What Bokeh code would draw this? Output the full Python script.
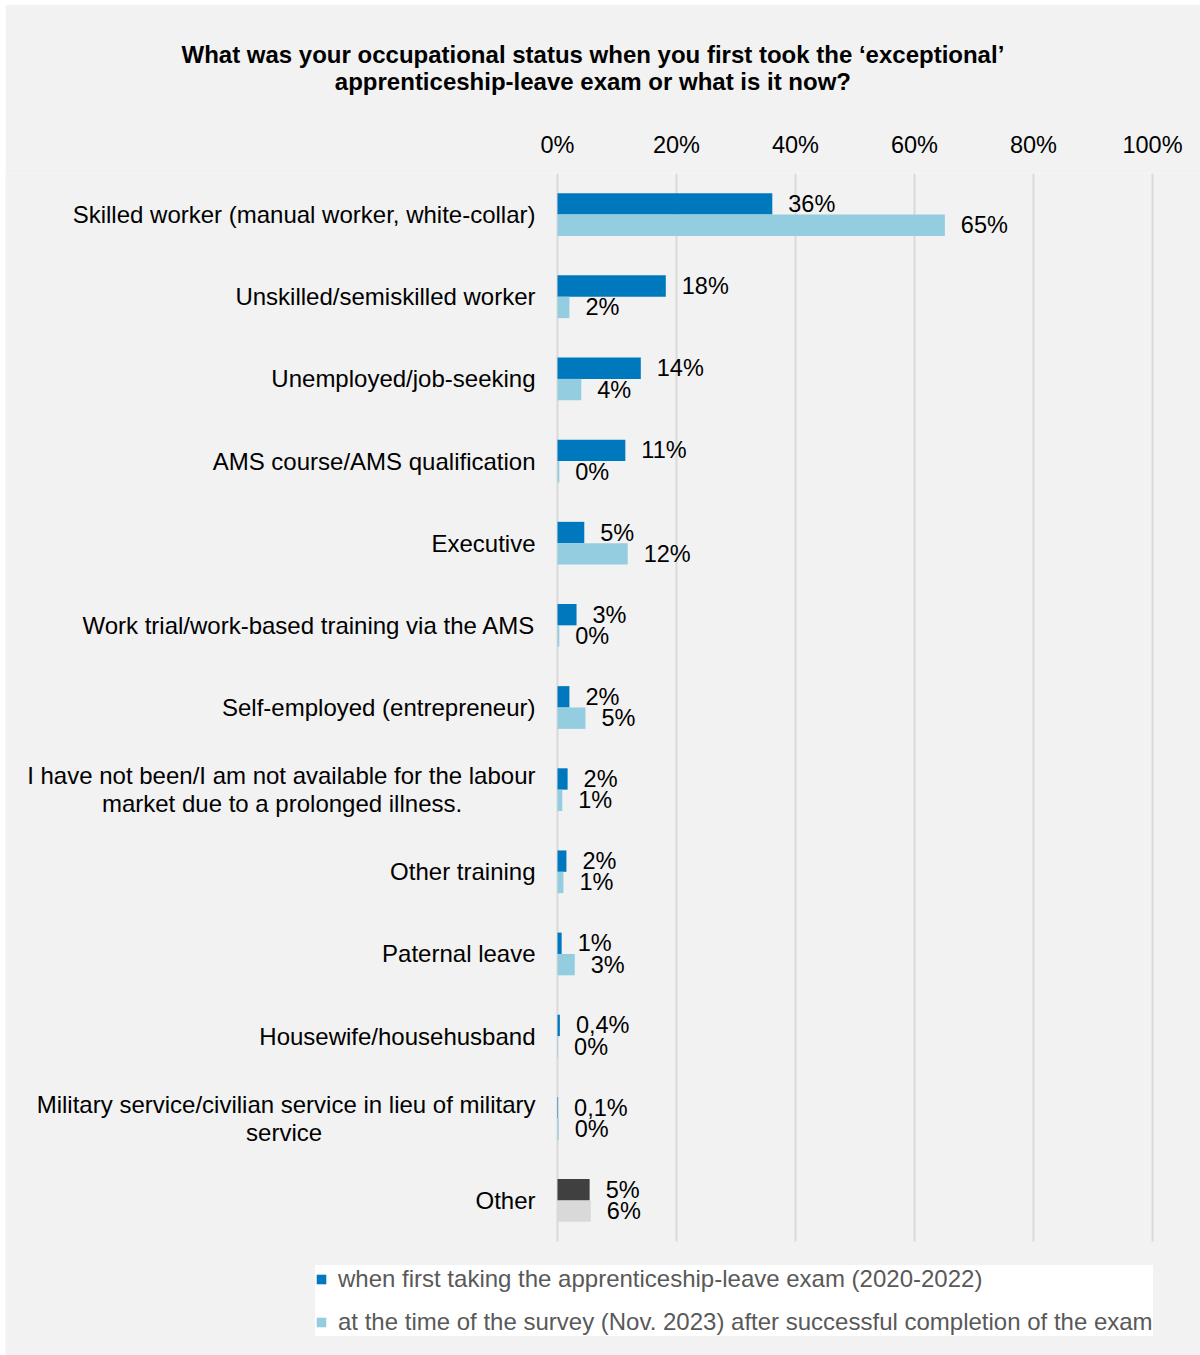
from bokeh.plotting import figure
from bokeh.models import (Range1d, Title, Legend, LegendItem,
                          ColumnDataSource, FixedTicker, PrintfTickFormatter)
from bokeh.embed import file_html
from bokeh.resources import INLINE
from bokeh.core.properties import value

NB = "\u00A0"
categories = [
    "Skilled worker (manual worker, white-collar)",
    "Unskilled/semiskilled worker",
    "Unemployed/job-seeking",
    "AMS course/AMS qualification",
    "Executive",
    "Work trial/work-based training via the AMS",
    "Self-employed (entrepreneur)",
    "I have not been/I am not available for the labour\nmarket due to a prolonged illness." + NB * 11,
    "Other training",
    "Paternal leave",
    "Housewife/househusband",
    "Military service/civilian service in lieu of military\nservice" + NB * 32,
    "Other",
]
first_exam = [36.1, 18.2, 14.0, 11.4, 4.5, 3.2, 2.0, 1.7, 1.5, 0.7, 0.4, 0.1, 5.4]
at_survey = [65.1, 2.0, 4.0, 0.3, 11.8, 0.3, 4.7, 0.8, 1.0, 2.9, 0.1, 0.2, 5.6]
first_exam_labels = ["36%", "18%", "14%", "11%", "5%", "3%", "2%", "2%", "2%", "1%", "0,4%", "0,1%", "5%"]
at_survey_labels = ["65%", "2%", "4%", "0%", "12%", "0%", "5%", "1%", "1%", "3%", "0%", "0%", "6%"]
x_ticks = [0, 20, 40, 60, 80, 100]
legend_labels = [
    "when first taking the apprenticeship-leave exam (2020-2022)",
    "at the time of the survey (Nov. 2023) after successful completion of the exam",
]
title_text = ("What was your occupational status when you first took the \u2018exceptional\u2019\n"
              + NB * 23 + "apprenticeship-leave exam or what is it now?")

DARK, LIGHT = "#0078BE", "#93CDDF"
OTHER_DARK, OTHER_LIGHT = "#404040", "#D9D9D9"
FONT = "Liberation Sans"
BG = "#F2F2F2"
H = 0.26

n = len(categories)
rows = [i + 0.5 for i in range(n)]          # category centres (top to bottom)
src = ColumnDataSource(dict(
    cat=categories,
    row=rows,
    y1=[r - H / 2 for r in rows],
    y2=[r + H / 2 for r in rows],
    zero=[0] * n,
    first=first_exam,
    second=at_survey,
    l1=first_exam_labels,
    l2=at_survey_labels,
    c1=[OTHER_DARK if c == "Other" else DARK for c in categories],
    c2=[OTHER_LIGHT if c == "Other" else LIGHT for c in categories],
))
grid_src = ColumnDataSource(dict(x=x_ticks, y0=[0] * len(x_ticks), y1=[n] * len(x_ticks)))

# frame = whole area below the top axis; 0..100 % maps to x 557..1152 px on the page
PX = 5.95
p = figure(
    frame_width=1195, frame_height=1182,
    x_range=Range1d(-552 / PX, 643 / PX),
    y_range=Range1d(1182 / 82.154, 0),
    x_axis_location="above", y_axis_type=None,
    output_backend="svg", toolbar_location=None,
    min_border_left=0, min_border_right=0,
    min_border_top=169, min_border_bottom=0,
    background_fill_color=BG, border_fill_color=BG,
    outline_line_color=None,
    margin=(4, 0, 0, 5),
)
p.xgrid.visible = False
p.ygrid.visible = False

p.segment(x0="x", x1="x", y0="y0", y1="y1", source=grid_src,
          line_color="#D9D9D9", line_width=2)

r1 = p.hbar(y="y1", left="zero", right="first", height=H,
            fill_color="c1", line_color=None, source=src)
r2 = p.hbar(y="y2", left="zero", right="second", height=H,
            fill_color="c2", line_color=None, source=src)

for col, lab, yc in (("first", "l1", "y1"), ("second", "l2", "y2")):
    p.text(x=col, y=yc, text=lab, source=src,
           x_offset=16, text_align="left", text_baseline="middle",
           text_font=value(FONT), text_font_size=value("23.5px"), text_color="#000000")

# category labels, right-aligned left of the 0 % line
p.text(x="zero", y="row", text="cat", source=src, x_offset=-22,
       text_align="right", text_baseline="middle", text_line_height=1.05,
       text_font=value(FONT), text_font_size=value("24px"), text_color="#000000")

# top axis
p.xaxis.ticker = FixedTicker(ticks=x_ticks)
p.xaxis.formatter = PrintfTickFormatter(format="%d%%")
p.xaxis.axis_line_color = None
p.xaxis.major_tick_line_color = None
p.xaxis.minor_tick_line_color = None
p.xaxis.major_tick_out = 0
p.xaxis.major_label_standoff = 16
p.xaxis.major_label_text_font = FONT
p.xaxis.major_label_text_font_size = "23.5px"
p.xaxis.major_label_text_color = "#000000"

p.add_layout(Title(text=title_text, align="left", offset=176, standoff=68,
                   text_font=FONT, text_font_size="24px", text_font_style="bold",
                   text_color="#000000", text_line_height=1.0), "above")

legend = Legend(
    items=[LegendItem(label=legend_labels[0], renderers=[r1], index=0),
           LegendItem(label=legend_labels[1], renderers=[r2], index=0)],
    location=(310, 19),
    background_fill_color="#FFFFFF", background_fill_alpha=1.0,
    border_line_color=None,
    label_text_font=FONT, label_text_font_size="24px", label_text_color="#595959",
    glyph_width=12, glyph_height=12, label_standoff=11,
    padding=9, spacing=15,
)
p.add_layout(legend)

open("out.html", "w").write(file_html(p, INLINE))
